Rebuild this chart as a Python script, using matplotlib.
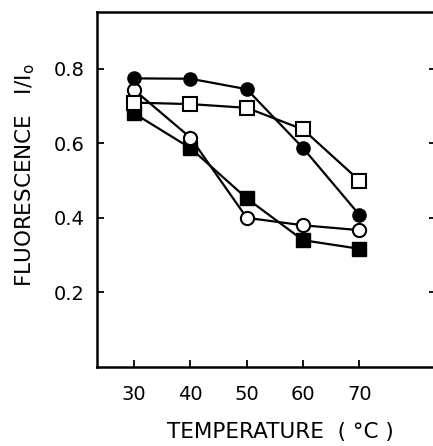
import matplotlib
matplotlib.use("Agg")
import matplotlib.pyplot as plt

plt.rcParams['font.family'] = ['DejaVu Sans']

temperature = [30, 40, 50, 60, 70]
filled_circle = [0.774, 0.773, 0.745, 0.587, 0.408]
open_square = [0.709, 0.705, 0.695, 0.637, 0.50]
open_circle = [0.743, 0.615, 0.40, 0.38, 0.367]
filled_square = [0.68, 0.587, 0.452, 0.34, 0.317]

yticks = [0.2, 0.4, 0.6, 0.8]
xticks = [30, 40, 50, 60, 70]

W, H = 433, 446
fig = plt.figure(figsize=(W / 100, H / 100), dpi=100)
# right spine sits just outside the picture
ax = fig.add_axes([97 / W, 1 - 367 / H, 339 / W, 355 / H])

ms = 9.5
lw = 1.6
ax.plot(temperature, filled_square, color='k', lw=lw, marker='s', ms=ms,
        mfc='k', mec='k', zorder=3)
ax.plot(temperature, open_circle, color='k', lw=lw, marker='o', ms=ms,
        mfc='white', mec='k', mew=1.5, zorder=4)
ax.plot(temperature, filled_circle, color='k', lw=lw, marker='o', ms=ms,
        mfc='k', mec='k', zorder=5)
ax.plot(temperature, open_square, color='k', lw=lw, marker='s', ms=ms,
        mfc='white', mec='k', mew=1.5, zorder=6)

ax.set_xlim(23.4, 83.6)
ax.set_ylim(0, 0.952)
ax.set_xticks(xticks)
ax.set_xticklabels([str(t) for t in xticks])
ax.set_yticks(yticks)
ax.set_yticklabels([f"{v:.1f}" for v in yticks])
ax.tick_params(direction='in', length=5, width=1.3, labelsize=14,
               right=True)
ax.tick_params(axis='x', pad=13)
ax.tick_params(axis='y', pad=9)

for s in ax.spines.values():
    s.set_linewidth(1.8)

fig.text(280 / W, 1 - 432 / H, "TEMPERATURE  ( °C )", fontsize=15.5,
         ha='center', va='center')
fig.text(25 / W, 1 - 175 / H, r"FLUORESCENCE   I/I$_\mathrm{o}$",
         fontsize=15.5, rotation=90, ha='center', va='center')

fig.savefig("out.png", dpi=100)
